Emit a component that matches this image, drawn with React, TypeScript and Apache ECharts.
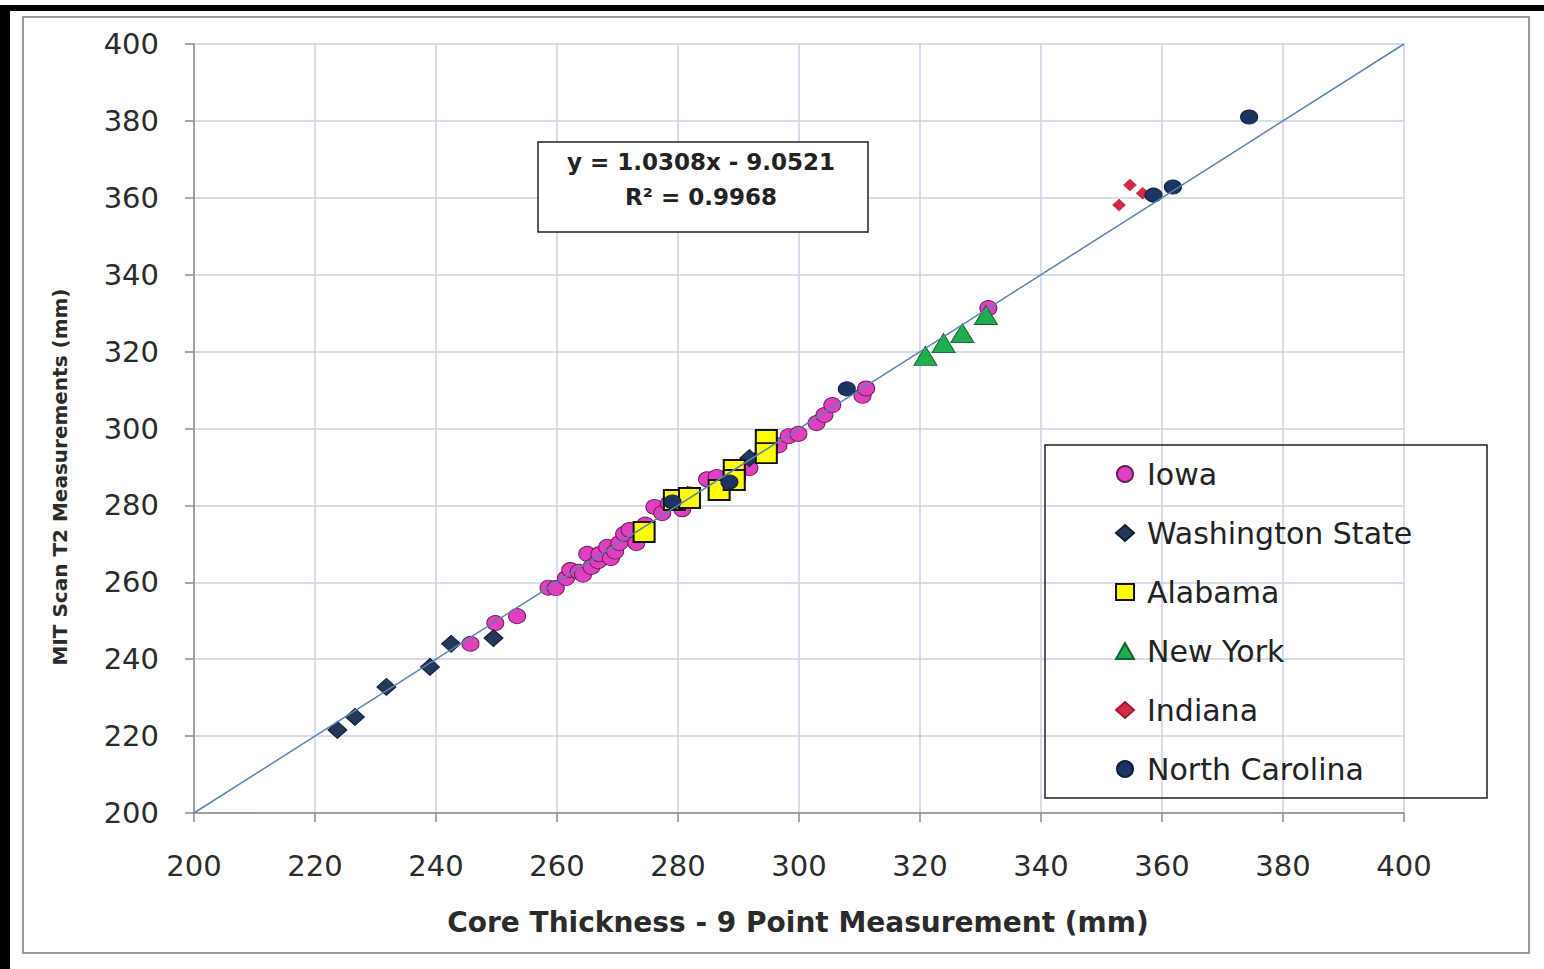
import React, { useEffect, useRef } from "react";
import * as echarts from "echarts";

const AXIS_MIN = 200;
const AXIS_MAX = 400;
const AXIS_INTERVAL = 20;

const iowa: [number, number][] = [
  [245.7, 244.0], [249.8, 249.4], [253.4, 251.2], [258.6, 258.6], [259.8, 258.5],
  [261.5, 261.1], [262.2, 263.2], [263.6, 262.7], [264.3, 262.0], [265.0, 267.4],
  [265.7, 264.0], [266.8, 265.5], [267.0, 267.3], [268.3, 269.2], [268.9, 266.3],
  [269.6, 268.0], [270.3, 270.2], [271.1, 272.6], [272.0, 273.6], [273.1, 270.2],
  [274.6, 275.0], [276.1, 279.6], [277.4, 278.0], [278.5, 280.5], [280.7, 279.0],
  [282.0, 282.8], [284.8, 286.8], [286.4, 287.4], [288.0, 285.5], [291.8, 289.7],
  [294.0, 293.0], [296.6, 295.6], [298.3, 298.0], [299.9, 298.6], [302.9, 301.4],
  [304.2, 303.5], [305.5, 306.1], [310.5, 308.5], [311.1, 310.4], [331.3, 331.3],
];
const washington: [number, number][] = [
  [223.7, 221.6], [226.6, 225.0], [231.8, 232.8], [239.0, 238.0], [242.5, 244.0],
  [249.5, 245.5], [281.6, 282.7], [291.8, 292.3],
];
const alabama: [number, number][] = [
  [274.4, 273.1], [279.4, 281.4], [281.9, 281.9], [286.8, 284.0], [289.3, 289.2],
  [289.3, 286.6], [294.6, 297.0], [294.6, 293.6],
];
const newYork: [number, number][] = [
  [320.9, 318.9], [323.9, 322.2], [327.0, 324.8], [330.9, 329.5],
];
const indiana: [number, number][] = [
  [352.9, 358.1], [354.7, 363.3], [356.8, 361.2],
];
const northCarolina: [number, number][] = [
  [279.1, 280.9], [288.5, 286.1], [307.9, 310.3], [358.6, 360.7], [361.8, 362.8],
  [374.4, 381.0],
];
const identityLine: [number, number][] = [[200, 200], [400, 400]];

const equationText = "y = 1.0308x - 9.0521";
const r2Text = "R² = 0.9968";
const xTitle = "Core Thickness - 9 Point Measurement (mm)";
const yTitle = "MIT Scan T2 Measurements (mm)";

const FONT = "DejaVu Sans";

export default function App() {
  const ref = useRef<HTMLDivElement>(null);
  useEffect(() => {
    if (!ref.current) return;
    const chart = echarts.init(ref.current, null, { renderer: "svg" });
    const scatter = (
      name: string,
      data: [number, number][],
      symbol: string,
      size: number | number[],
      color: string,
      border: string,
      bw: number
    ) => ({
      name,
      type: "scatter",
      data,
      symbol,
      symbolSize: size,
      itemStyle: { color, borderColor: border, borderWidth: bw, opacity: 1 },
      z: 3,
    });
    chart.setOption({
      animation: false,
      backgroundColor: "#ffffff",
      grid: { left: 194, top: 44, width: 1210, height: 769, containLabel: false },
      xAxis: {
        type: "value",
        min: AXIS_MIN,
        max: AXIS_MAX,
        interval: AXIS_INTERVAL,
        axisLine: { show: true, lineStyle: { color: "#8c8c8c", width: 1.5 } },
        axisTick: { show: true, length: 9, lineStyle: { color: "#8c8c8c", width: 1.5 } },
        axisLabel: { margin: 38, color: "#2b2b2b", fontFamily: FONT, fontSize: 29 },
        splitLine: { show: true, lineStyle: { color: "#cad3e3", width: 1.5 } },
      },
      yAxis: {
        type: "value",
        min: AXIS_MIN,
        max: AXIS_MAX,
        interval: AXIS_INTERVAL,
        axisLine: { show: true, lineStyle: { color: "#8c8c8c", width: 1.5 } },
        axisTick: { show: true, length: 9, lineStyle: { color: "#8c8c8c", width: 1.5 } },
        axisLabel: { margin: 35, color: "#2b2b2b", fontFamily: FONT, fontSize: 29 },
        splitLine: { show: true, lineStyle: { color: "#cad3e3", width: 1.5 } },
      },
      legend: {
        orient: "vertical",
        left: 1110,
        top: 454,
        itemWidth: 18,
        itemHeight: 16,
        itemGap: 29,
        textStyle: {
          fontFamily: FONT,
          fontSize: 30,
          lineHeight: 30,
          color: "#222222",
          padding: [0, 0, 0, 8],
        },
        data: ["Iowa", "Washington State", "Alabama", "New York", "Indiana", "North Carolina"],
      },
      graphic: [
        { type: "rect", shape: { x: 0, y: 5, width: 1544, height: 6 }, style: { fill: "#000" }, z: 50 },
        { type: "rect", shape: { x: 0, y: 5, width: 10, height: 964 }, style: { fill: "#000" }, z: 50 },
        {
          type: "rect",
          shape: { x: 23, y: 17, width: 1506, height: 936 },
          style: { fill: "none", stroke: "#9a9a9a", lineWidth: 2 },
          z: 50,
        },
        {
          type: "rect",
          shape: { x: 538, y: 142, width: 330, height: 90 },
          style: { fill: "#ffffff", stroke: "#222222", lineWidth: 1.5 },
          z: 100,
        },
        {
          type: "text",
          x: 701,
          y: 162,
          style: {
            text: equationText,
            fontFamily: FONT,
            fontWeight: "bold",
            fontSize: 23,
            fill: "#222222",
            align: "center",
            verticalAlign: "middle",
          },
          z: 101,
        },
        {
          type: "text",
          x: 701,
          y: 197,
          style: {
            text: r2Text,
            fontFamily: FONT,
            fontWeight: "bold",
            fontSize: 23,
            fill: "#222222",
            align: "center",
            verticalAlign: "middle",
          },
          z: 101,
        },
        {
          type: "rect",
          shape: { x: 1045, y: 445, width: 442, height: 353 },
          style: { fill: "none", stroke: "#222222", lineWidth: 1.5 },
          z: 100,
        },
        {
          type: "text",
          x: 798,
          y: 922,
          style: {
            text: xTitle,
            fontFamily: FONT,
            fontWeight: "bold",
            fontSize: 28,
            fill: "#2b2b2b",
            align: "center",
            verticalAlign: "middle",
          },
          z: 101,
        },
        {
          type: "text",
          x: 60,
          y: 477,
          rotation: Math.PI / 2,
          style: {
            text: yTitle,
            fontFamily: FONT,
            fontWeight: "bold",
            fontSize: 20,
            fill: "#2b2b2b",
            align: "center",
            verticalAlign: "middle",
          },
          z: 101,
        },
      ],
      series: [
        scatter("Iowa", iowa, "circle", [17, 15], "#e040c0", "#6b1f56", 1),
        scatter("Washington State", washington, "diamond", [19, 17], "#22395a", "#121f33", 1),
        scatter("Alabama", alabama, "rect", [21, 20], "#ffff00", "#111111", 2),
        scatter("New York", newYork, "triangle", [23, 19], "#1fae4f", "#16602f", 1),
        scatter("Indiana", indiana, "diamond", [13, 12], "#d42a45", "#a01a30", 0.5),
        scatter("North Carolina", northCarolina, "circle", [17, 14], "#1c3461", "#0f1e3a", 1),
        {
          name: "fit",
          type: "line",
          data: identityLine,
          symbol: "none",
          lineStyle: { color: "#5b83b0", width: 1.5 },
          z: 5,
          silent: true,
        },
      ],
    });
    return () => chart.dispose();
  }, []);
  return (
    <div
      ref={ref}
      style={{ position: "absolute", left: 0, top: 0, width: 1544, height: 969 }}
    />
  );
}
